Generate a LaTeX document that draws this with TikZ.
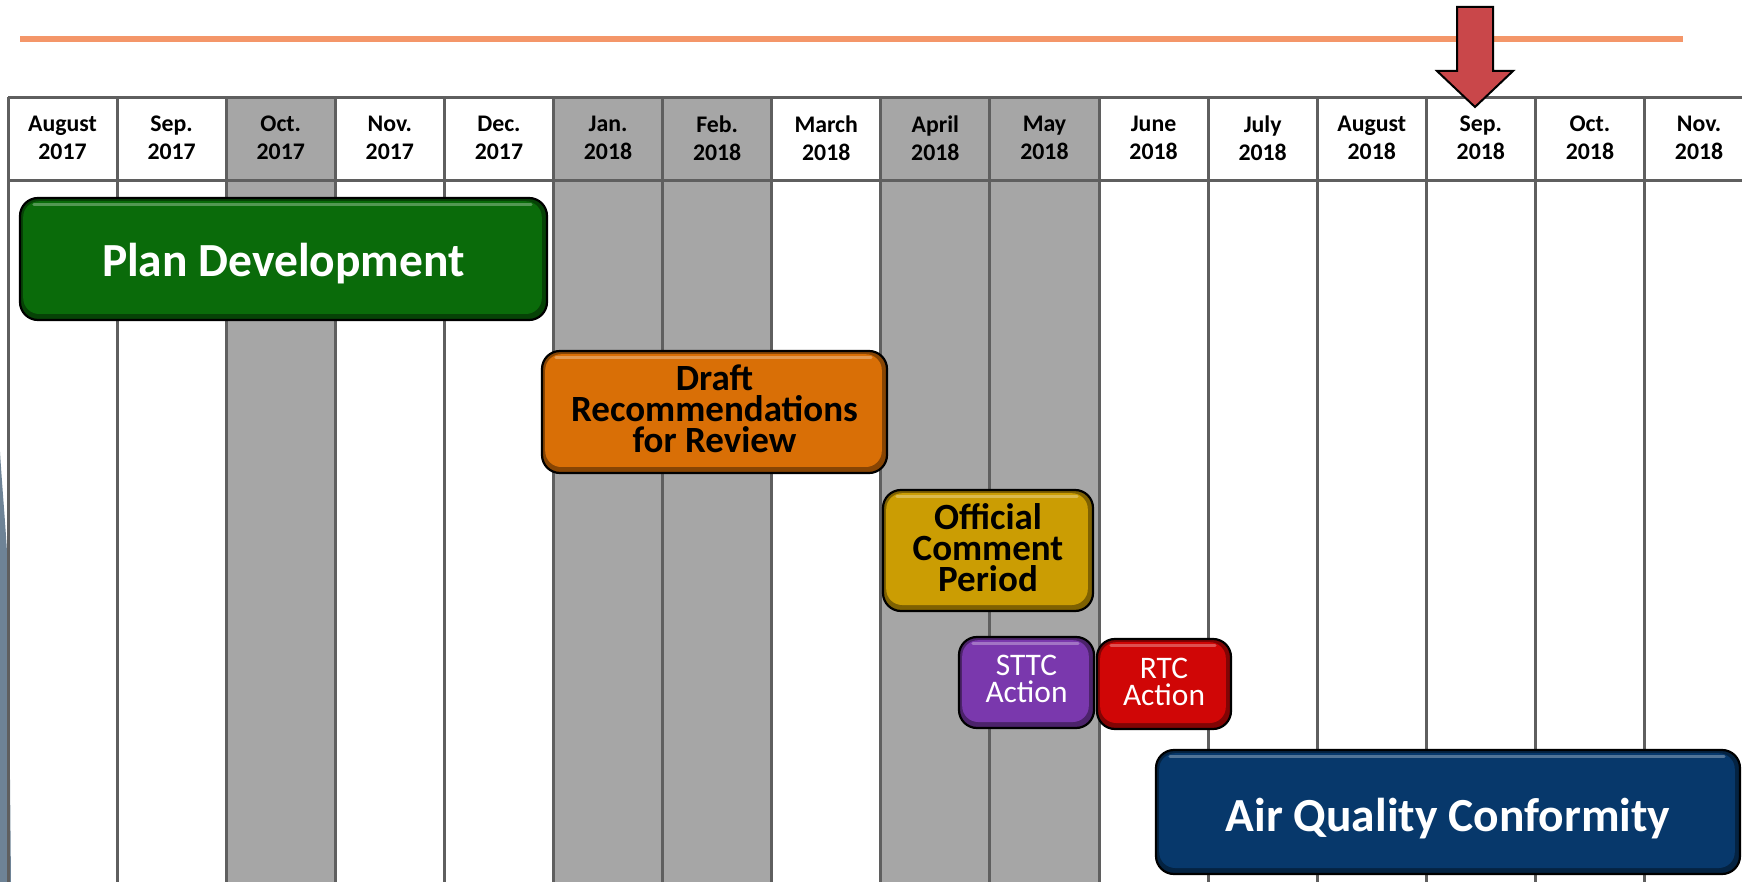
\documentclass[tikz,border=0pt]{standalone}
\usepackage{fontspec}
\setmainfont{Carlito}
\definecolor{gridgrey}{RGB}{95,95,95}
\definecolor{shadecol}{RGB}{166,166,166}
\definecolor{rulecol}{RGB}{244,150,105}
\definecolor{arrowred}{RGB}{201,71,74}
\definecolor{slate}{RGB}{110,131,150}
\definecolor{plangreen}{RGB}{10,107,10}
\definecolor{draftorange}{RGB}{217,111,6}
\definecolor{commentgold}{RGB}{203,157,3}
\definecolor{sttcpurple}{RGB}{122,56,173}
\definecolor{rtcred}{RGB}{208,6,6}
\definecolor{aqnavy}{RGB}{7,56,107}
\begin{document}
\begin{tikzpicture}[x=0.5pt,y=-0.5pt,
  hdr/.style={align=center,font=\bfseries\fontsize{11.9pt}{14pt}\selectfont,inner sep=0pt},
  bar/.style={draw=black,line width=1.1pt,rounded corners=9pt,fill=#1!62!black,
    inner sep=0pt,
    path picture={
      \fill[#1,rounded corners=8pt]
        ([xshift=1.6pt,yshift=-1.6pt]path picture bounding box.north west) rectangle
        ([xshift=-2.6pt,yshift=3pt]path picture bounding box.south east);
      \draw[white,opacity=0.3,line width=1.6pt,line cap=round]
        ([xshift=7pt,yshift=-3.2pt]path picture bounding box.north west) --
        ([xshift=-8pt,yshift=-3.2pt]path picture bounding box.north east);
    }},
  bigtext/.style={align=center,inner sep=0pt,font=\bfseries\fontsize{23.75pt}{28pt}\selectfont,text=white},
  midtext/.style={align=center,inner sep=0pt,font=\bfseries\fontsize{18.5pt}{15.5pt}\selectfont,text=black},
  smalltext/.style={align=center,inner sep=0pt,font=\fontsize{15.7pt}{13.5pt}\selectfont,text=white}]
\useasboundingbox (0,0) rectangle (1742,882);
\clip (0,0) rectangle (1742,882);
\fill[white] (0,0) rectangle (1742,882);
\def\colw{109.1}
% shaded month columns
\foreach \i in {2,5,6,8,9}
  \fill[shadecol] ({8+\i*\colw},98) rectangle ({8+(\i+1)*\colw},900);
% slate sliver along the left edge
\fill[slate] (0,452) .. controls (3,500) and (7,540) .. (8,575) -- (11,882) -- (0,882) -- cycle;
% grid
\foreach \i in {0,...,16}
  \draw[gridgrey,line width=1.5pt] ({8+\i*\colw},97) -- ({8+\i*\colw},900);
\draw[gridgrey,line width=1.5pt] (8,98) -- (1760,98);
\draw[gridgrey,line width=1.5pt] (8,181) -- (1760,181);
% month headers
\foreach \m/\y [count=\i from 0] in {August/2017,Sep./2017,Oct./2017,Nov./2017,Dec./2017,
    Jan./2018,Feb./2018,March/2018,April/2018,May/2018,June/2018,July/2018,
    August/2018,Sep./2018,Oct./2018,Nov./2018}
  \node[hdr] (h\i) at ({8+(\i+0.5)*\colw},138) {\m\\\y};
% timeline rule and current-month marker
\coordinate (r0) at (20,39);
\coordinate (r1) at (1683,39);
\draw[rulecol,line width=3pt] (r0) -- (r1);
\filldraw[fill=arrowred,draw=black,line width=1pt,line join=miter]
  (1457,7) -- (1493,7) -- (1493,71) -- (1513,71) -- (1475,107) -- (1437,71) -- (1457,71) -- cycle;
% phase bars
\node[bar=plangreen,minimum width=263.5pt,minimum height=61pt,
  label={[bigtext,yshift=-2.2pt]center:Plan Development}] (plan) at (283.5,259) {};
\node[bar=draftorange,minimum width=172.5pt,minimum height=61pt,
  label={[midtext,yshift=1.7pt]center:Draft\\Recommendations\\for Review}] (draft) at (714.5,412) {};
\node[bar=commentgold,minimum width=105pt,minimum height=60.5pt,
  label={[midtext,yshift=1.5pt]center:Official\\Comment\\Period}] (comment) at (988,550.5) {};
\node[bar=sttcpurple,minimum width=67.5pt,minimum height=45.5pt,
  label={[smalltext,yshift=1.6pt]center:STTC\\Action}] (sttc) at (1026.5,682.5) {};
\node[bar=rtcred,minimum width=67pt,minimum height=45pt,
  label={[smalltext,yshift=1.1pt]center:RTC\\Action}] (rtc) at (1164,684) {};
\node[bar=aqnavy,minimum width=292pt,minimum height=62pt,
  label={[bigtext,yshift=-3.2pt]center:Air Quality Conformity}] (aq) at (1448,812) {};
\end{tikzpicture}
\end{document}
